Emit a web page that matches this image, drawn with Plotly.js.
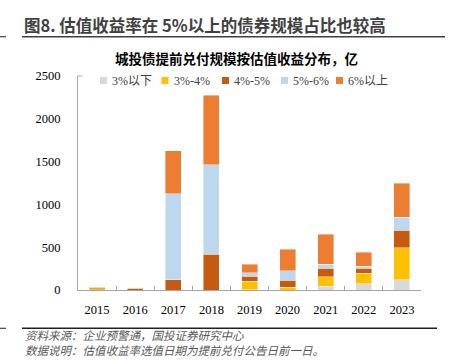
<!DOCTYPE html>
<html>
<head>
<meta charset="utf-8">
<script src="https://cdn.plot.ly/plotly-3.0.1.min.js"></script>
<style>html,body{margin:0;padding:0;background:#fff;}#chart{width:451px;height:360px;}</style>
</head>
<body>
<div id="chart"></div>
<script>
const years = ['2015','2016','2017','2018','2019','2020','2021','2022','2023'];
const seriesNames = ['3%以下','3%-4%','4%-5%','5%-6%','6%以上'];
const below3 = [0, 0, 0, 0, 5, 0, 43, 74, 117];
const r3to4 = [15, 0, 0, 0, 97, 31, 109, 124, 377];
const r4to5 = [10, 12, 120, 415, 61, 82, 101, 55, 206];
const r5to6 = [0, 0, 1005, 1047, 39, 112, 47, 27, 148];
const above6 = [10, 6, 500, 813, 98, 253, 350, 160, 397];
const yTicks = [0, 500, 1000, 1500, 2000, 2500];
const colors = ['#D9D9D9', '#FFC000', '#C55A11', '#BDD7EE', '#ED7D31'];
const seriesData = [below3, r3to4, r4to5, r5to6, above6];

const W = 451, H = 360, ML = 78, MR = 30, MT = 76, MB = 70;
const PW = W - ML - MR, PH = H - MT - MB;
const px = p => (p - ML) / PW;
const py = p => (H - MB - p) / PH;

const serif = 'Liberation Serif, Noto Sans CJK SC, serif';
const cjk = 'Noto Sans CJK SC, sans-serif';

const traces = seriesData.map((d, i) => ({
  type: 'bar', x: years, y: d, name: seriesNames[i],
  marker: {color: colors[i], line: {color: 'rgba(255,255,255,0.7)', width: 0.6}},
  showlegend: false, hoverinfo: 'x+y+name'
}));

const shapes = [
  {type:'line', xref:'paper', yref:'paper', x0:px(22), x1:px(445), y0:py(36.7), y1:py(36.7), line:{color:'#404040', width:1.6}},
  {type:'line', xref:'paper', yref:'paper', x0:px(0), x1:px(6), y0:py(36.7), y1:py(36.7), line:{color:'#404040', width:1.2}},
  {type:'line', xref:'paper', yref:'paper', x0:px(22), x1:px(437), y0:py(328.3), y1:py(328.3), line:{color:'#202020', width:1.4}},
  {type:'line', xref:'paper', yref:'paper', x0:px(0), x1:px(6), y0:py(328.3), y1:py(328.3), line:{color:'#404040', width:1.2}},
  {type:'line', xref:'paper', yref:'paper', x0:0, x1:px(82), y0:1, y1:1, line:{color:'#A6A6A6', width:1}}
];
const annotations = [
  {xref:'paper', yref:'paper', x:px(22), y:py(25), xanchor:'left', yanchor:'middle', showarrow:false,
   text:'<b>图8. 估值收益率在 5%以上的债券规模占比也较高</b>', font:{family:cjk, size:16.5, color:'#404040'}},
  {xref:'paper', yref:'paper', x:px(236), y:py(58), xanchor:'center', yanchor:'middle', showarrow:false,
   text:'<b>城投债提前兑付规模按估值收益分布，亿</b>', font:{family:cjk, size:13.5, color:'#000'}},
  {xref:'paper', yref:'paper', x:px(23), y:py(342.5), xanchor:'left', yanchor:'middle', align:'left', showarrow:false,
   text:'<i>资料来源：企业预警通，国投证券研究中心</i><br><i>数据说明：估值收益率选值日期为提前兑付公告日前一日。</i>',
   font:{family:cjk, size:11.5, color:'#595959'}}
];
// custom legend
const legMarkerX = [100, 161.5, 222, 281, 336];
const legY = 80.5;
seriesNames.forEach((n, i) => {
  const x0 = legMarkerX[i];
  shapes.push({type:'rect', xref:'paper', yref:'paper', x0:px(x0), x1:px(x0+7), y0:py(legY+3.5), y1:py(legY-3.5),
    fillcolor: colors[i], line:{width:0}});
  annotations.push({xref:'paper', yref:'paper', x:px(x0+10), y:py(legY), xanchor:'left', yanchor:'middle', showarrow:false,
    text:n, font:{family:serif, size:12, color:'#404040'}});
});

const layout = {
  width: W, height: H,
  margin: {l: ML, r: MR, t: MT, b: MB, pad: 0},
  paper_bgcolor: '#fff', plot_bgcolor: '#fff',
  barmode: 'stack', bargap: 0.58,
  showlegend: false,
  xaxis: {type:'category', showline:true, linecolor:'#A6A6A6', linewidth:1, ticks:'inside', tickson:'boundaries',
    ticklen:4, tickcolor:'#A6A6A6', showgrid:false, zeroline:false, ticklabelstandoff:8,
    tickfont:{family:serif, size:12.5, color:'#000'}},
  yaxis: {range:[0,2500], tickvals:yTicks, showline:true, linecolor:'#A6A6A6', linewidth:1, ticks:'',
    showgrid:false, zeroline:false, ticklabelstandoff:14, tickfont:{family:serif, size:12.5, color:'#000'}},
  shapes: shapes, annotations: annotations
};
Plotly.newPlot('chart', traces, layout, {staticPlot:true, displayModeBar:false});
</script>
</body>
</html>
